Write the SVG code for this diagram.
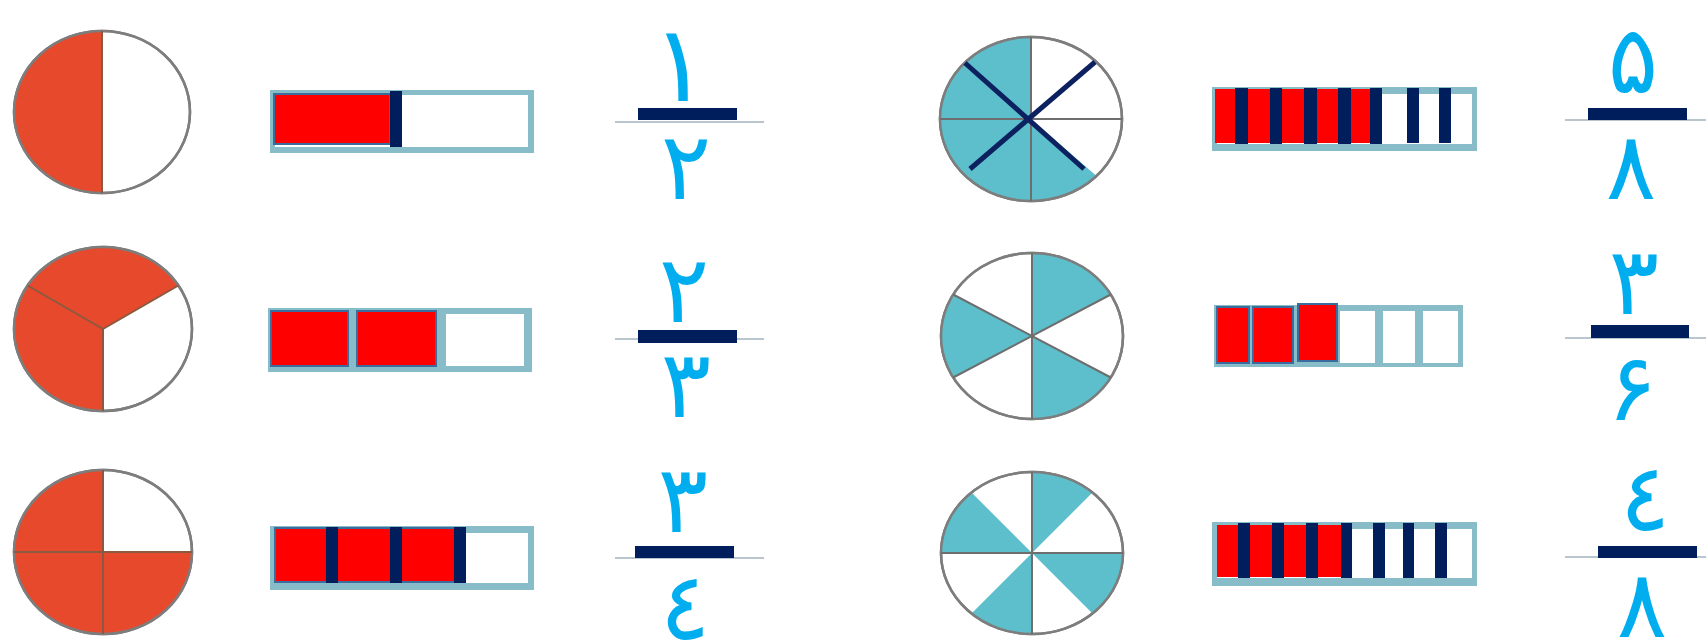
<svg xmlns="http://www.w3.org/2000/svg" width="1706" height="640" viewBox="0 0 1706 640">
<style>
.bg{fill:#ffffff}
.ring{fill:#ffffff;stroke:#7d7d7d;stroke-width:2.5}
.red{fill:#e6492b}
.div{stroke:#8a5a40;stroke-width:2;fill:none}
.teal{fill:#5cbfcb}
.gdiv{stroke:#6e6e6e;stroke-width:2;fill:none}
.xline{stroke:#0d2160;stroke-width:5;stroke-linecap:butt}
.frame{fill:#88bcc8}
.inner{fill:#ffffff}
.cell{fill:#ff0000}
.cellb{fill:#ff0000;stroke:#3b6c9e;stroke-width:2}
.navy{fill:#001d5c}
.fline{stroke:#b9c6cd;stroke-width:2}
.digit{font-family:'DejaVu Sans',sans-serif;font-size:94px;fill:#00aeef;text-anchor:middle}
.one{font-size:106px}
</style>
<rect class="bg" x="0" y="0" width="1706" height="640"/>

<!-- Left column -->
<g id="circle-1-2">
  <ellipse class="ring" cx="102" cy="112" rx="88" ry="81"/>
  <path class="red" d="M102,31 A88,81 0 0,0 102,193 Z"/>
  <ellipse cx="102" cy="112" rx="88" ry="81" fill="none" stroke="#7d7d7d" stroke-width="2.5"/>
  <line class="div" x1="102" y1="31" x2="102" y2="193"/>
</g>
<g id="bar-1-2">
  <rect class="frame" x="270" y="90" width="264" height="63"/>
  <rect class="inner" x="275" y="95" width="253" height="52"/>
  <rect class="cellb" x="274" y="94" width="116" height="50"/>
  <rect class="navy" x="390" y="91" width="12" height="56"/>
</g>
<g id="frac-1-2">
  <line class="fline" x1="615" y1="122" x2="764" y2="122"/>
  <rect class="navy" x="638" y="108" width="99" height="12"/>
  <text class="digit one" x="680" y="101">١</text>
  <text class="digit" x="686" y="199">٢</text>
</g>

<g id="circle-2-3">
  <ellipse class="ring" cx="103" cy="329" rx="89" ry="82"/>
  <path class="red" d="M103,329 L103,411 A89,82 0 1,1 178.4,285.5 Z"/>
  <ellipse cx="103" cy="329" rx="89" ry="82" fill="none" stroke="#7d7d7d" stroke-width="2.5"/>
  <line class="div" x1="103" y1="329" x2="103" y2="411"/>
  <line class="div" x1="103" y1="329" x2="27.6" y2="285.5"/>
  <line class="div" x1="103" y1="329" x2="178.4" y2="285.5"/>
</g>
<g id="bar-2-3">
  <rect class="frame" x="268" y="308" width="264" height="64"/>
  <rect class="inner" x="446" y="314" width="78" height="52"/>
  <rect class="cellb" x="271" y="311" width="77" height="55"/>
  <rect class="cellb" x="357" y="311" width="79" height="55"/>
</g>
<g id="frac-2-3">
  <line class="fline" x1="615" y1="339" x2="764" y2="339"/>
  <rect class="navy" x="638" y="330" width="99" height="13"/>
  <text class="digit" x="684" y="322">٢</text>
  <text class="digit" x="686" y="417">٣</text>
</g>

<g id="circle-3-4">
  <ellipse class="ring" cx="103" cy="552" rx="89" ry="82"/>
  <path class="red" d="M103,552 L103,470 A89,82 0 1,0 192,552 Z"/>
  <ellipse cx="103" cy="552" rx="89" ry="82" fill="none" stroke="#7d7d7d" stroke-width="2.5"/>
  <line class="div" x1="14" y1="552" x2="192" y2="552"/>
  <line class="div" x1="103" y1="470" x2="103" y2="634"/>
</g>
<g id="bar-3-4">
  <rect class="frame" x="270" y="526" width="264" height="64"/>
  <rect class="inner" x="275" y="533" width="253" height="50"/>
  <rect class="cellb" x="275" y="528" width="180" height="54"/>
  <rect class="navy" x="326" y="527" width="12" height="56"/>
  <rect class="navy" x="390" y="527" width="12" height="56"/>
  <rect class="navy" x="454" y="527" width="12" height="56"/>
</g>
<g id="frac-3-4">
  <line class="fline" x1="615" y1="558" x2="764" y2="558"/>
  <rect class="navy" x="635" y="546" width="99" height="12"/>
  <text class="digit" x="683" y="532">٣</text>
  <text class="digit" x="685" y="639">٤</text>
</g>

<!-- Right column -->
<g id="circle-5-8">
  <ellipse class="ring" cx="1031" cy="119" rx="91" ry="82"/>
  <path class="teal" d="M1031,119 L1096.5,176 A91,82 0 1,1 1031,37 Z"/>
  <ellipse cx="1031" cy="119" rx="91" ry="82" fill="none" stroke="#7d7d7d" stroke-width="2.5"/>
  <line class="gdiv" x1="1031" y1="37" x2="1031" y2="201"/>
  <line class="gdiv" x1="940" y1="119" x2="1122" y2="119"/>
  <line class="xline" x1="965" y1="63" x2="1084" y2="169"/>
  <line class="xline" x1="1095" y1="62" x2="970" y2="169"/>
</g>
<g id="bar-5-8">
  <rect class="frame" x="1212" y="87" width="265" height="64"/>
  <rect class="inner" x="1217" y="94" width="255" height="50"/>
  <rect class="cell" x="1215" y="89" width="167" height="54"/>
  <rect class="navy" x="1235" y="88" width="13" height="56"/>
  <rect class="navy" x="1270" y="88" width="12" height="56"/>
  <rect class="navy" x="1304" y="88" width="13" height="56"/>
  <rect class="navy" x="1338" y="88" width="13" height="56"/>
  <rect class="navy" x="1370" y="88" width="12" height="56"/>
  <rect class="navy" x="1407" y="88" width="12" height="55"/>
  <rect class="navy" x="1439" y="88" width="12" height="55"/>
</g>
<g id="frac-5-8">
  <line class="fline" x1="1565" y1="120" x2="1706" y2="120"/>
  <rect class="navy" x="1588" y="108" width="99" height="12"/>
  <text class="digit" x="1633" y="93">۵</text>
  <text class="digit" x="1631" y="199">٨</text>
</g>

<g id="circle-3-6">
  <ellipse class="ring" cx="1032" cy="336" rx="91" ry="83"/>
  <path class="teal" d="M1032,336 L1032,253 A91,83 0 0,1 1110.8,294.5 Z"/>
  <path class="teal" d="M1032,336 L1110.8,377.5 A91,83 0 0,1 1032,419 Z"/>
  <path class="teal" d="M1032,336 L953.2,377.5 A91,83 0 0,1 953.2,294.5 Z"/>
  <ellipse cx="1032" cy="336" rx="91" ry="83" fill="none" stroke="#7d7d7d" stroke-width="2.5"/>
  <line class="gdiv" x1="1032" y1="253" x2="1032" y2="419"/>
  <line class="gdiv" x1="953.2" y1="294.5" x2="1110.8" y2="377.5"/>
  <line class="gdiv" x1="953.2" y1="377.5" x2="1110.8" y2="294.5"/>
</g>
<g id="bar-3-6">
  <rect class="frame" x="1214" y="305" width="249" height="62"/>
  <rect class="inner" x="1340" y="311" width="35" height="52"/>
  <rect class="inner" x="1383" y="311" width="32" height="52"/>
  <rect class="inner" x="1423" y="311" width="35" height="52"/>
  <rect class="cellb" x="1217" y="307" width="32" height="56"/>
  <rect class="cellb" x="1253" y="307" width="40" height="56"/>
  <rect class="cellb" x="1298" y="304" width="39" height="57"/>
</g>
<g id="frac-3-6">
  <line class="fline" x1="1565" y1="338" x2="1706" y2="338"/>
  <rect class="navy" x="1591" y="325" width="98" height="13"/>
  <text class="digit" x="1634" y="314">٣</text>
  <text class="digit" x="1632" y="420">۶</text>
</g>

<g id="circle-4-8">
  <ellipse class="ring" cx="1032" cy="553" rx="91" ry="81"/>
  <path class="teal" d="M1032,553 L1123,553 A91,81 0 0,1 1092.5,613.5 Z"/>
  <path class="teal" d="M1032,553 L1032,634 A91,81 0 0,1 971.5,613.5 Z"/>
  <path class="teal" d="M1032,553 L941,553 A91,81 0 0,1 971.5,492.5 Z"/>
  <path class="teal" d="M1032,553 L1032,472 A91,81 0 0,1 1092.5,492.5 Z"/>
  <ellipse cx="1032" cy="553" rx="91" ry="81" fill="none" stroke="#7d7d7d" stroke-width="2.5"/>
  <line class="gdiv" x1="1032" y1="472" x2="1032" y2="634"/>
  <line class="gdiv" x1="941" y1="553" x2="1123" y2="553"/>
</g>
<g id="bar-4-8">
  <rect class="frame" x="1212" y="522" width="265" height="64"/>
  <rect class="inner" x="1217" y="529" width="255" height="49"/>
  <rect class="cell" x="1217" y="525" width="128" height="52"/>
  <rect class="navy" x="1238" y="523" width="12" height="55"/>
  <rect class="navy" x="1272" y="523" width="12" height="55"/>
  <rect class="navy" x="1306" y="523" width="12" height="55"/>
  <rect class="navy" x="1341" y="523" width="11" height="55"/>
  <rect class="navy" x="1373" y="523" width="12" height="55"/>
  <rect class="navy" x="1403" y="523" width="11" height="55"/>
  <rect class="navy" x="1435" y="523" width="12" height="55"/>
</g>
<g id="frac-4-8">
  <line class="fline" x1="1565" y1="557" x2="1706" y2="557"/>
  <rect class="navy" x="1598" y="546" width="99" height="12"/>
  <text class="digit" x="1645" y="530">٤</text>
  <text class="digit" x="1642" y="637">٨</text>
</g>
</svg>
